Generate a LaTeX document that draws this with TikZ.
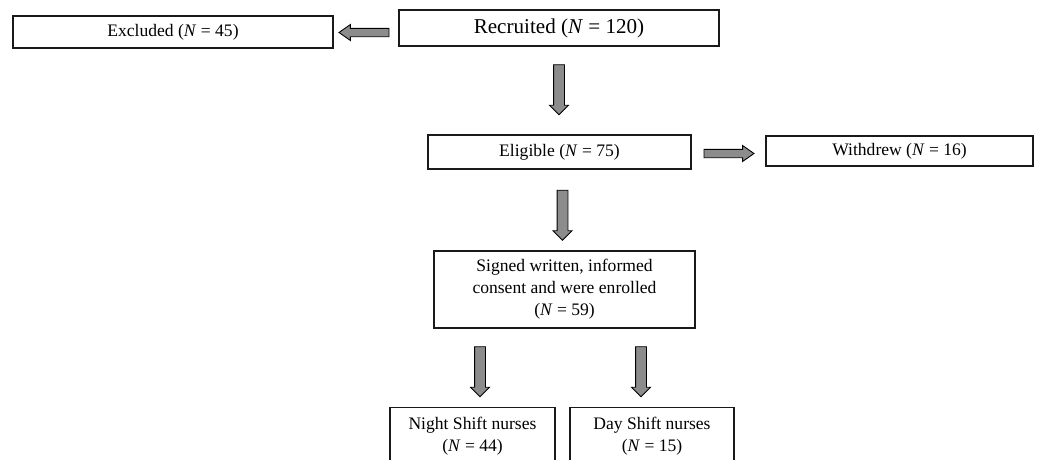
\documentclass[tikz,border=0pt]{standalone}
\usepackage{fontspec}
\setmainfont{Liberation Serif}
\usepackage{tikz}
\usetikzlibrary{positioning,shapes.arrows}
\definecolor{boxline}{HTML}{1A1A1A}
\definecolor{arrowgray}{HTML}{8C8C8C}

\begin{document}
\begin{tikzpicture}[
  stagebox/.style={draw=boxline, line width=0.6pt, rectangle, inner sep=0pt, align=center, font=\fontsize{10}{12.5}\selectfont},
  blockarrow/.style={single arrow, draw=black, line width=0.5pt, fill=arrowgray, inner sep=0.075cm, minimum height=1cm, single arrow head extend=0.075cm, single arrow tip angle=70},
  downarrow/.style={blockarrow, shape border rotate=270, inner sep=0.1cm, single arrow head extend=0.08cm, single arrow tip angle=90}
]
  \useasboundingbox (0,0) rectangle (20.82,-9.18);

  \node[stagebox, minimum width=6.4cm, minimum height=0.72cm, font=\fontsize{12}{14}\selectfont] (rec) at (11.18,-0.56) {Recruited (\textit{N} = 120)};
  \node[stagebox, minimum width=6.4cm, minimum height=0.64cm] (excl) at (3.46,-0.64) {Excluded (\textit{N} = 45)};
  \node[stagebox, minimum width=5.26cm, minimum height=0.68cm] (elig) at (11.19,-3.04) {Eligible (\textit{N} = 75)};
  \node[stagebox, minimum width=5.34cm, minimum height=0.6cm] (withd) at (17.99,-3.02) {Withdrew (\textit{N} = 16)};
  \node[stagebox, minimum width=5.22cm, minimum height=1.54cm] (enrol) at (11.29,-5.79) {Signed written, informed\\consent and were enrolled\\(\textit{N} = 59)};
  \node[stagebox, minimum width=3.3cm, minimum height=1.16cm, anchor=north] (night) at (9.45,-8.14) {Night Shift nurses\\(\textit{N} = 44)};
  \node[stagebox, minimum width=3.28cm, minimum height=1.16cm, anchor=north] (day) at (13.04,-8.14) {Day Shift nurses\\(\textit{N} = 15)};

  % block arrows
  \node[blockarrow, shape border rotate=180] (toexcl) at (7.34,-0.65) {};
  \node[downarrow] (toelig) at (11.18,-1.74) {};
  \node[blockarrow] (towithd) at (14.52,-3.07) {};
  \node[downarrow] (toenrol) at (11.25,-4.25) {};
  \node[downarrow] (tonight) at (9.6,-7.38) {};
  \node[downarrow] (today) at (12.82,-7.38) {};
\end{tikzpicture}
\end{document}
